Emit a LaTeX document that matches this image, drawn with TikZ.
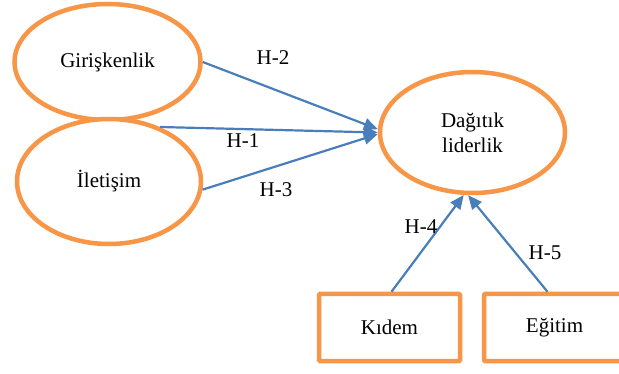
\documentclass[tikz,border=0pt]{standalone}
\usepackage{fontspec}
\setmainfont{Liberation Serif}
\usetikzlibrary{shapes.geometric,arrows.meta}
\definecolor{orng}{RGB}{247,150,70}
\definecolor{blu}{RGB}{74,126,187}
\begin{document}
\begin{tikzpicture}[x=1pt,y=-1pt,
  every node/.style={font=\fontsize{21}{25}\selectfont},
  oval/.style={ellipse,draw=orng,line width=4.5pt,fill=white,inner sep=0pt},
  box/.style={rectangle,draw=orng,line width=4.5pt,fill=white,inner sep=0pt,minimum width=141pt,minimum height=67pt,rounded corners=1pt},
  conn/.style={draw=blu,line width=2.2pt,-{Triangle[length=14pt,width=12pt]}},
  lbl/.style={inner sep=0pt}]
\useasboundingbox (0,0) rectangle (619,374);
\clip (0,0) rectangle (619,374);
\fill[white] (0,0) rectangle (619,374);
\node[oval,minimum width=186pt,minimum height=116pt] (gir) at (107.5,62) {Girişkenlik};
\node[oval,minimum width=184pt,minimum height=125pt] (ile) at (109,181.5) {İletişim};
\node[oval,minimum width=185pt,minimum height=121pt,align=center] (dag) at (472.5,132.5) {Dağıtık\\liderlik};
\node[box] (kid) at (389.5,327.5) {Kıdem};
\node[box] (egi) at (554.5,327.5) {Eğitim};
\draw[conn] (gir.east) -- (dag.178);
\draw[conn] (ile.47) -- (dag.west);
\draw[conn] (ile.-5) -- (dag.-179);
\draw[conn] ([xshift=2pt]kid.north) -- (dag.-98);
\draw[conn] ([xshift=-7pt]egi.north) -- (dag.-94);
\node[lbl] (h2) at (273,58) {H-2};
\node[lbl] (h1) at (243,141) {H-1};
\node[lbl] (h3) at (276,190) {H-3};
\node[lbl] (h4) at (421,227) {H-4};
\node[lbl] (h5) at (545,253) {H-5};
\end{tikzpicture}
\end{document}
